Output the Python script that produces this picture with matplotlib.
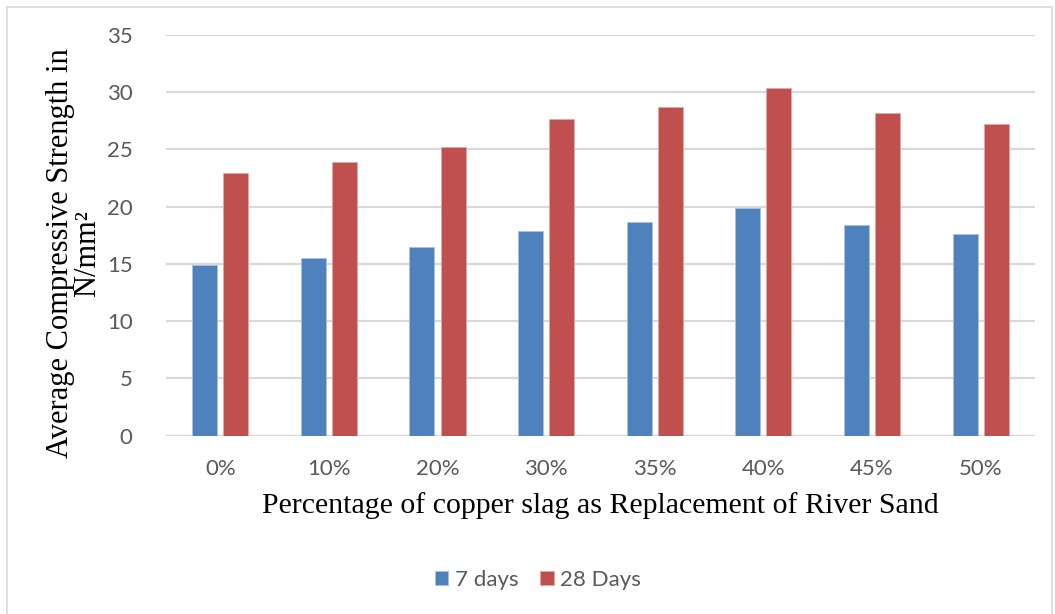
import numpy as np
import matplotlib.pyplot as plt
from matplotlib.patches import Rectangle

# data
categories = ["0%", "10%", "20%", "30%", "35%", "40%", "45%", "50%"]
days7 = [14.95, 15.55, 16.5, 17.9, 18.65, 19.85, 18.4, 17.65]
days28 = [22.98, 23.9, 25.2, 27.7, 28.75, 30.35, 28.2, 27.25]

blue = "#4F81BD"
red = "#C0504D"
grey_text = "#595959"

fig = plt.figure(figsize=(10.55, 6.14), dpi=100)
ax = fig.add_axes([0.1573, 0.2904, 0.8237, 0.6526])

# light frame round the whole chart
fig.patches.append(Rectangle((0.007, -0.01), 0.99, 0.998, transform=fig.transFigure,
                             fill=False, edgecolor="#d9d9d9", linewidth=1.2))

x = np.arange(len(categories))
w = 0.23
ax.bar(x - 0.143, days7, w, color=blue, edgecolor="#a9c0e0", linewidth=0.6, label="7 days", zorder=3)
ax.bar(x + 0.143, days28, w, color=red, edgecolor="#e0a9a8", linewidth=0.6, label="28 Days", zorder=3)

ax.set_xlim(-0.5, len(categories) - 0.5)
ax.set_ylim(0, 35)
ax.set_yticks(np.arange(0, 36, 5))
ax.set_xticks(x)
ax.set_xticklabels(categories)

for s in ax.spines.values():
    s.set_visible(False)
ax.yaxis.grid(True, color="#d9d9d9", linewidth=1.6, zorder=0)
ax.axhline(0, color="#d9d9d9", linewidth=1.6, zorder=1)
ax.tick_params(axis="both", length=0, labelsize=16, labelcolor=grey_text)
ax.tick_params(axis="y", pad=24)
ax.tick_params(axis="x", pad=17)
for lab in ax.get_xticklabels() + ax.get_yticklabels():
    lab.set_family("Lato")

ax.set_ylabel("Average Compressive Strength in\nN/mm²", family="Liberation Serif",
              fontsize=22, linespacing=0.95)
ax.yaxis.set_label_coords(-0.073, 0.455)
ax.set_xlabel("Percentage of copper slag as Replacement of River Sand",
              family="Liberation Serif", fontsize=21.5, labelpad=9)

ax.legend(loc="upper center", bbox_to_anchor=(0.428, -0.285), ncol=2, frameon=False,
          prop={"family": "Lato", "size": 16}, labelcolor=grey_text,
          handlelength=0.6, handleheight=0.6, handletextpad=0.3, columnspacing=1.0)

plt.savefig("out.png", dpi=100)
